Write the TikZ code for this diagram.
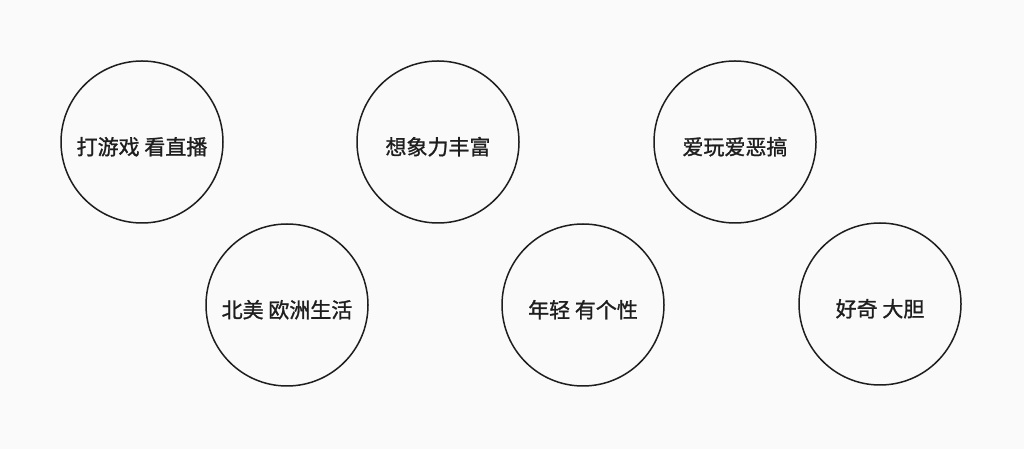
\documentclass[tikz,border=0pt]{standalone}
\usepackage{fontspec}
\newfontfamily\cjk[FakeBold=1.2]{Noto Sans CJK SC}
\definecolor{inkgray}{RGB}{30,30,30}
\definecolor{paper}{RGB}{250,250,250}

\begin{document}
\begin{tikzpicture}[x=1pt, y=1pt,
    bubble/.style={circle, draw=inkgray, line width=1.5pt, minimum size=162pt,
      inner sep=0pt, text=inkgray, text height=28pt, text depth=2.5pt,
      font=\cjk\fontsize{21pt}{24pt}\selectfont}]
    \fill[paper] (0,0) rectangle (1024,449);
    \useasboundingbox (0,0) rectangle (1024,449);

    % top row
    \node[bubble] (games) at (142, 307) {打游戏 看直播};
    \node[bubble] (imagine) at (438, 307) {想象力丰富};
    \node[bubble] (playful) at (735, 307) {爱玩爱恶搞};

    % bottom row
    \node[bubble] (abroad) at (287, 144) {北美 欧洲生活};
    \node[bubble] (young) at (583, 144) {年轻 有个性};
    \node[bubble] (curious) at (880, 145) {好奇 大胆};

\end{tikzpicture}
\end{document}
